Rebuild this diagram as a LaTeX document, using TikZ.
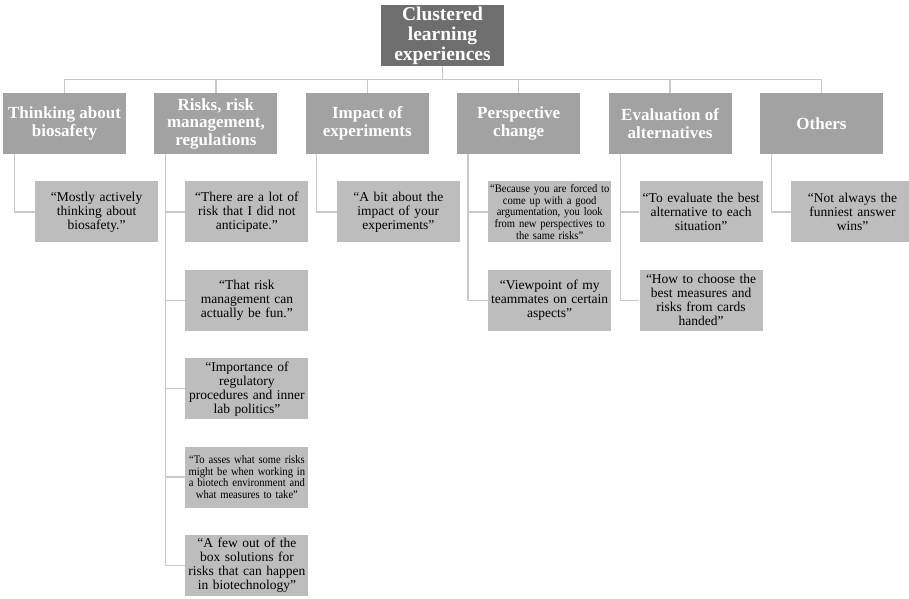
\documentclass[tikz,border=0pt]{standalone}
\usepackage{fontspec}
\setmainfont{Liberation Serif}
\newfontfamily\narrowserif[FakeStretch=0.92]{Liberation Serif}
\usepackage{xcolor}
\usepackage{tikz}
\usetikzlibrary{positioning}

\definecolor{rootgray}{HTML}{6E6E6E}
\definecolor{clustergray}{HTML}{A2A2A2}
\definecolor{quotegray}{HTML}{BDBDBD}
\definecolor{linegray}{HTML}{C8C8C8}

\begin{document}
\begin{tikzpicture}[x=1pt,y=-1pt]
		\tikzset{
			node distance=27pt and 28pt,
			rootbox/.style={rectangle, fill=rootgray, text=white, align=center,
			font=\fontsize{19.5}{20}\selectfont\bfseries, minimum width=123pt, minimum height=61pt, inner sep=1pt},
			cluster/.style={rectangle, fill=clustergray, text=white, align=center,
			font=\fontsize{17}{17.5}\selectfont\bfseries, minimum width=123pt, minimum height=61pt, inner sep=1pt},
			quote/.style={rectangle, fill=quotegray, text=black, align=center, font=\fontsize{13.5}{14}\selectfont,
			text width=121pt, inner xsep=1pt, inner ysep=1pt, minimum height=61pt},
			small/.style={font=\narrowserif\fontsize{11.5}{11.7}\selectfont},
			link/.style={draw=linegray, line width=1.3pt}
		}
		\useasboundingbox (0,0) rectangle (909,598);

		\node[rootbox](root) at (442.5,35.5){Clustered\\learning\\experiences};

		\node[cluster](think) at (64.5,123.5){Thinking about\\biosafety};
		\node[cluster, right=of think](risks){Risks, risk\\management,\\regulations};
		\node[cluster, right=of risks](impact){Impact of\\experiments};
		\node[cluster, right=of impact](persp){Perspective\\change};
		\node[cluster, right=of persp](evalalt){Evaluation of\\alternatives};
		\node[cluster, right=of evalalt](others){Others};

		\node[quote, below=of think, xshift=32pt](think1){“Mostly actively\\thinking about\\biosafety.”};

		\node[quote, below=of risks, xshift=31pt](risks1){“There are a lot of\\risk that I did not\\anticipate.”};
		\node[quote, below=of risks1](risks2){“That risk\\management can\\actually be fun.”};
		\node[quote, below=of risks2](risks3){“Importance of\\regulatory\\procedures and inner\\lab politics”};
		\node[quote, small, below=of risks3](risks4){“To asses what some risks\\might be when working in\\a biotech environment and\\what measures to take”};
		\node[quote, below=of risks4](risks5){“A few out of the\\box solutions for\\risks that can happen\\in biotechnology”};

		\node[quote, below=of impact, xshift=31pt](impact1){“A bit about the\\impact of your\\experiments”};

		\node[quote, small, below=of persp, xshift=31pt](persp1){“Because you are forced to\\come up with a good\\argumentation, you look\\from new perspectives to\\the same risks”};
		\node[quote, below=of persp1](persp2){“Viewpoint of my\\teammates on certain\\aspects”};

		\node[quote, below=of evalalt, xshift=31pt](evalalt1){“To evaluate the best\\alternative to each\\situation”};
		\node[quote, below=of evalalt1](evalalt2){“How to choose the\\best measures and\\risks from cards\\handed”};

		\node[quote, below=of others, xshift=31pt](others1){“Not always the\\funniest answer\\wins”};

		% tree lines
		\foreach \c in {think,risks,impact,persp,evalalt,others}
			\draw[link](root.south) -- ++(0pt,-13pt) -| (\c.north);

		\draw[link](think.south west) ++(12pt,0pt) |- (think1.west);
		\foreach \q in {risks1,risks2,risks3,risks4,risks5}
			\draw[link](risks.south west) ++(11pt,0pt) |- (\q.west);
		\draw[link](impact.south west) ++(11pt,0pt) |- (impact1.west);
		\foreach \q in {persp1,persp2}
			\draw[link](persp.south west) ++(11pt,0pt) |- (\q.west);
		\foreach \q in {evalalt1,evalalt2}
			\draw[link](evalalt.south west) ++(12pt,0pt) |- (\q.west);
		\draw[link](others.south west) ++(12pt,0pt) |- (others1.west);
	\end{tikzpicture}
\end{document}
